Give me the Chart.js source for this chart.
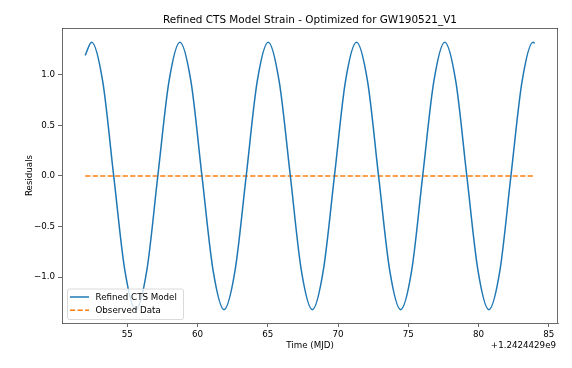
<!DOCTYPE html>
<html><head><meta charset="utf-8">
<script src="https://cdn.jsdelivr.net/npm/chart.js@4/dist/chart.umd.min.js"></script>
<style>html,body{margin:0;padding:0;background:#fff}#wrap{width:572px;height:368px}</style>
</head><body><div id="wrap"><canvas id="c" width="572" height="368"></canvas></div>
<script>
// Data (time offsets from +1.2424429e9, MJD axis as labelled)
const modelTime = [52.00,52.46,53.25,54.03,54.82,55.60,56.39,57.17,57.96,58.74,59.53,60.31,61.10,61.88,62.67,63.46,64.24,65.03,65.81,66.60,67.38,68.17,68.95,69.74,70.52,71.31,72.10,72.88,73.67,74.45,75.24,76.02,76.81,77.59,78.38,79.16,79.95,80.73,81.52,82.30,83.09,83.87,84.00];
const modelResiduals = [1.19,1.32,0.93,0,-0.93,-1.32,-0.93,0,0.93,1.32,0.93,0,-0.93,-1.32,-0.93,0,0.93,1.32,0.93,0,-0.93,-1.32,-0.93,0,0.93,1.32,0.93,0,-0.93,-1.32,-0.93,0,0.93,1.32,0.93,0,-0.93,-1.32,-0.93,0,0.93,1.32,1.31];
const observedTime = [52.00, 84.00];
const observedResiduals = [0, 0];
const xTicks = [55,60,65,70,75,80,85];
const yTicks = [-1.0,-0.5,0.0,0.5,1.0];
const titleText = "Refined CTS Model Strain - Optimized for GW190521_V1";
const xLabel = "Time (MJD)";
const yLabel = "Residuals";
const offsetText = "+1.2424429e9";
const seriesNames = ["Refined CTS Model", "Observed Data"];

const FONT = "'DejaVu Sans', sans-serif";
const FS = 8.7;
const fmtY = v => (v < 0 ? "\u2212" : "") + Math.abs(v).toFixed(1);

const deco = {
  id: 'deco',
  afterDraw(chart) {
    const ctx = chart.ctx, a = chart.chartArea;
    ctx.save();
    // frame top/right
    ctx.strokeStyle = '#444'; ctx.lineWidth = 0.8;
    ctx.beginPath();
    ctx.moveTo(a.left, a.top + 0.5); ctx.lineTo(a.right, a.top + 0.5);
    ctx.moveTo(a.right - 0.5, a.top); ctx.lineTo(a.right - 0.5, a.bottom);
    ctx.stroke();
    ctx.fillStyle = '#000';
    // title
    ctx.font = "10.45px " + FONT; ctx.textAlign = 'center'; ctx.textBaseline = 'alphabetic';
    ctx.fillText(titleText, (a.left + a.right) / 2, 23);
    // x label
    ctx.font = FS + "px " + FONT;
    ctx.fillText(xLabel, (a.left + a.right) / 2, 348);
    ctx.textAlign = 'right';
    ctx.fillText(offsetText, a.right - 2, 348);
    // y label
    ctx.save();
    ctx.translate(32, (a.top + a.bottom) / 2);
    ctx.rotate(-Math.PI / 2);
    ctx.textAlign = 'center';
    ctx.fillText(yLabel, 0, 0);
    ctx.restore();
    // legend
    const lx = 67, ly = 288.5, lw = 116, lh = 30.5, r = 2;
    ctx.fillStyle = 'rgba(255,255,255,0.8)';
    ctx.strokeStyle = '#d0d0d0'; ctx.lineWidth = 0.8;
    ctx.beginPath();
    ctx.roundRect(lx + 0.5, ly + 0.5, lw, lh, r);
    ctx.fill(); ctx.stroke();
    chart.data.datasets.forEach((ds, i) => {
      const y = 297 + i * 13.2;
      ctx.strokeStyle = ds.borderColor; ctx.lineWidth = ds.borderWidth;
      ctx.setLineDash(ds.borderDash || []);
      ctx.beginPath(); ctx.moveTo(70, y); ctx.lineTo(89, y); ctx.stroke();
      ctx.setLineDash([]);
      ctx.fillStyle = '#000'; ctx.textAlign = 'left'; ctx.textBaseline = 'middle';
      ctx.font = FS + "px " + FONT;
      ctx.fillText(ds.label, 95.5, y + 0.5);
    });
    ctx.restore();
  }
};

new Chart(document.getElementById('c'), {
  type: 'line',
  data: {
    datasets: [
      { label: seriesNames[0], data: modelTime.map((t, i) => ({x: t, y: modelResiduals[i]})),
        borderColor: '#1f77b4', borderWidth: 1.5, pointRadius: 0, fill: false,
        cubicInterpolationMode: 'monotone' },
      { label: seriesNames[1], data: observedTime.map((t, i) => ({x: t, y: observedResiduals[i]})),
        borderColor: '#ff7f0e', borderWidth: 1.5, borderDash: [5.2, 2.3], pointRadius: 0, fill: false }
    ]
  },
  options: {
    responsive: false, animation: false, devicePixelRatio: 1,
    layout: { padding: { left: 0, top: 28, right: 14, bottom: 0 } },
    plugins: { legend: { display: false }, title: { display: false }, tooltip: { enabled: false } },
    scales: {
      x: {
        type: 'linear', min: 50.35, max: 85.65,
        afterFit: s => { s.height = 45; },
        afterBuildTicks: s => { s.ticks = xTicks.map(v => ({value: v})); },
        ticks: { callback: v => String(v), color: '#000', font: { family: FONT, size: FS }, padding: 3, maxRotation: 0 },
        grid: { display: true, drawOnChartArea: false, drawTicks: true, tickLength: 4, color: '#444', lineWidth: 0.8 },
        border: { display: true, color: '#444', width: 0.8 }
      },
      y: {
        type: 'linear', min: -1.452, max: 1.46,
        afterFit: s => { s.width = 62; },
        afterBuildTicks: s => { s.ticks = yTicks.map(v => ({value: v})); },
        ticks: { callback: v => fmtY(v), color: '#000', font: { family: FONT, size: FS }, padding: 3 },
        grid: { display: true, drawOnChartArea: false, drawTicks: true, tickLength: 4, color: '#444', lineWidth: 0.8 },
        border: { display: true, color: '#444', width: 0.8 }
      }
    }
  },
  plugins: [deco]
});
</script></body></html>
